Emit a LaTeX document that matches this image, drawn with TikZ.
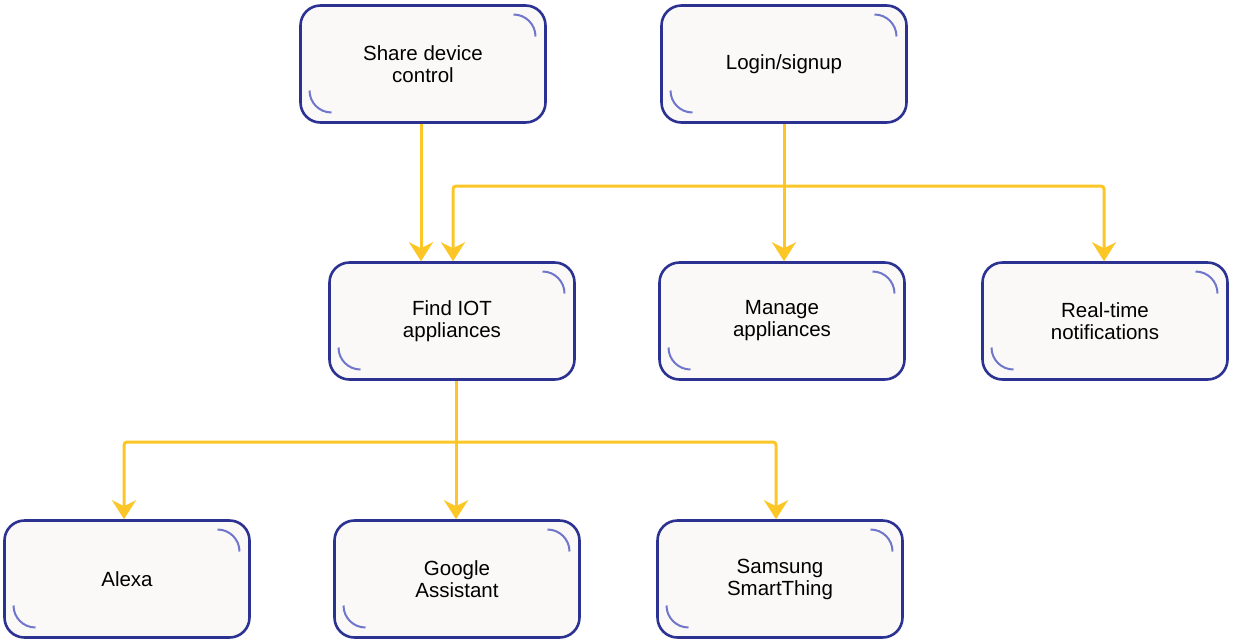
\documentclass[tikz,border=0pt]{standalone}
\usepackage{fontspec}
\setmainfont{Liberation Sans}
\usetikzlibrary{arrows.meta,positioning,calc}
\definecolor{rim}{RGB}{44,50,146}
\definecolor{curl}{RGB}{112,118,204}
\definecolor{paper}{RGB}{250,249,247}
\definecolor{amber}{RGB}{252,199,38}
\tikzset{
  card/.style={draw=rim,line width=2.6pt,rounded corners=20pt,fill=paper,
    minimum width=245pt,minimum height=117pt,align=center,
    font=\fontsize{20.5}{22}\selectfont,
    path picture={
      \draw[curl,line width=2pt]
        ([xshift=-32pt,yshift=-9pt]path picture bounding box.north east)
        arc[start angle=90,end angle=0,radius=22pt];
      \draw[curl,line width=2pt]
        ([xshift=9pt,yshift=32pt]path picture bounding box.south west)
        arc[start angle=180,end angle=270,radius=22pt];
    }},
  flow/.style={-{Stealth[length=19pt,width=24pt,inset=6pt]},amber,line width=3pt,
    rounded corners=3pt},
}

\begin{document}
\begin{tikzpicture}[x=1pt,y=1pt]
  \useasboundingbox (0,0) rectangle (1233,-641);
  % top row
  \node[card] (share) at (423,-64) {Share device\\control};
  \node[card] (login) at (784,-64) {Login/signup};
  % middle row
  \node[card] (find) at (452,-321) {Find IOT\\appliances};
  \node[card] (manage) at (782,-321) {Manage\\appliances};
  \node[card] (notify) at (1105,-321) {Real-time\\notifications};
  % bottom row
  \node[card] (alexa) at (127,-579) {Alexa};
  \node[card] (google) at (457,-579) {Google\\Assistant};
  \node[card] (samsung) at (780,-579) {Samsung\\SmartThing};
  % branch points
  \coordinate (fork1) at (784,-186);
  \coordinate (fork2) at (456,-442);
  % connectors
  \draw[flow] ([xshift=-2pt]share.south) -- ([xshift=-2pt]share.south |- find.north);
  \draw[flow] (login.south) -- (login.south |- manage.north);
  \draw[flow] (fork1) -| ([xshift=1pt]find.north);
  \draw[flow] (fork1) -| ([xshift=-1pt]notify.north);
  \draw[flow] ([xshift=4pt]find.south) -- ([xshift=4pt]find.south |- google.north);
  \draw[flow] (fork2) -| ([xshift=-3pt]alexa.north);
  \draw[flow] (fork2) -| ([xshift=-4pt]samsung.north);
\end{tikzpicture}
\end{document}
